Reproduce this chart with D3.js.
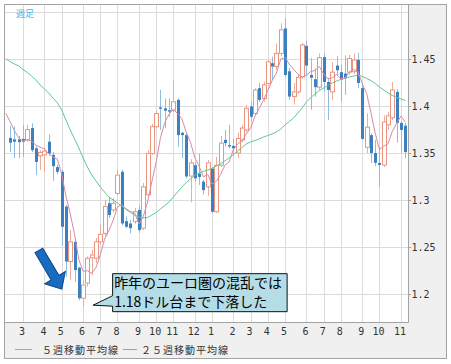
<!DOCTYPE html>
<html>
<head>
<meta charset="utf-8">
<script src="https://cdn.jsdelivr.net/npm/d3@7"></script>
<style>
body{margin:0;background:#fff;}
svg{display:block;}
</style>
</head>
<body>
<div id="main"></div>
<script>
// weekly EUR/USD, week 0 = 2010-02-08
var opens=[1.3660,1.3645,1.3645,1.3650,1.3640,1.3765,1.3550,1.3470,1.3480,1.3620,
1.3480,1.3350,1.3300,1.2930,1.2345,1.2555,1.2280,1.1955,1.2115,1.2385,
1.2380,1.2555,1.2645,1.2965,1.2895,1.3070,1.3300,1.2775,1.2750,1.2770,
1.2895,1.2700,1.3055,1.3495,1.3780,1.3985,1.3975,1.3955,1.3955,1.4065,
1.3715,1.3690,1.3255,1.3370,1.3280,1.3195,1.3140,1.3335,1.2875,1.3370,
1.3640,1.3585,1.3575,1.3500,1.3640,1.3745,1.3995,1.3920,1.4190,1.4080,
1.4240,1.4455,1.4420,1.4560,1.4825,1.4370,1.4100,1.4150,1.4310,1.4640,
1.4330,1.4285,1.4200,1.4520,1.4255,1.4150,1.4430,1.4360,1.4345,1.4360,
1.4365,1.4490,1.4190,1.3560,1.3690,1.3500,1.3394,1.3372,1.3800,1.3875,
1.4150,1.3820,1.3790];
var highs=[1.3790,1.3780,1.3680,1.3800,1.3800,1.3815,1.3570,1.3530,1.3555,1.3700,
1.3510,1.3375,1.3320,1.2950,1.2680,1.2575,1.2290,1.2150,1.2400,1.2470,
1.2595,1.2735,1.3000,1.3030,1.3020,1.3320,1.3320,1.2825,1.2790,1.2915,
1.2935,1.3180,1.3530,1.3810,1.3955,1.4170,1.4080,1.4080,1.4275,1.4080,
1.3725,1.3710,1.3435,1.3405,1.3495,1.3215,1.3425,1.3350,1.3460,1.3680,
1.3745,1.3800,1.3650,1.3715,1.3800,1.4010,1.4045,1.4190,1.4245,1.4255,
1.4490,1.4525,1.4665,1.4880,1.4935,1.4405,1.4245,1.4340,1.4670,1.4695,
1.4510,1.4400,1.4560,1.4560,1.4300,1.4465,1.4530,1.4440,1.4540,1.4545,
1.4560,1.4565,1.4250,1.3920,1.3710,1.3640,1.3560,1.3900,1.3935,1.4255,
1.4180,1.3840,1.3820];
var lows=[1.3510,1.3445,1.3445,1.3460,1.3620,1.3510,1.3265,1.3320,1.3300,1.3470,
1.3205,1.3275,1.2510,1.2185,1.2150,1.2130,1.1935,1.1865,1.2080,1.2200,
1.2330,1.2520,1.2615,1.2810,1.2870,1.3050,1.2730,1.2700,1.2645,1.2745,
1.2650,1.2680,1.3045,1.3480,1.3765,1.3745,1.3765,1.3885,1.3935,1.3565,
1.3445,1.3230,1.2975,1.3200,1.3160,1.3060,1.3045,1.2860,1.2860,1.3350,
1.3570,1.3550,1.3470,1.3445,1.3615,1.3725,1.3835,1.3895,1.4045,1.4045,
1.4215,1.4275,1.4385,1.4530,1.4310,1.4065,1.4015,1.4130,1.4290,1.4330,
1.3960,1.4100,1.4170,1.4150,1.3850,1.4060,1.4330,1.4045,1.4120,1.4330,
1.4340,1.4190,1.3640,1.3500,1.3395,1.3360,1.3140,1.3350,1.3745,1.3850,
1.3610,1.3500,1.3445];
var closes=[1.3610,1.3620,1.3615,1.3620,1.3750,1.3530,1.3405,1.3505,1.3520,1.3495,
1.3360,1.3300,1.2715,1.2345,1.2555,1.2255,1.1955,1.2095,1.2380,1.2415,
1.2555,1.2635,1.2930,1.2840,1.2965,1.3265,1.2750,1.2715,1.2700,1.2875,
1.2680,1.3140,1.3495,1.3780,1.3920,1.3970,1.3950,1.3940,1.4045,1.3690,
1.3690,1.3250,1.3395,1.3230,1.3245,1.3105,1.3395,1.2875,1.3370,1.3605,
1.3605,1.3570,1.3550,1.3655,1.3765,1.3975,1.3885,1.4170,1.4065,1.4225,
1.4470,1.4420,1.4560,1.4810,1.4330,1.4100,1.4150,1.4305,1.4650,1.4430,
1.4300,1.4200,1.4515,1.4255,1.4170,1.4360,1.4380,1.4280,1.4295,1.4505,
1.4490,1.4245,1.3650,1.3775,1.3500,1.3395,1.3372,1.3830,1.3895,1.4170,
1.3820,1.3745,1.3510];

// moving averages, first value is week -1
var maFirstWeek=-1;
var ma5=[1.3922,1.3833,1.3739,1.3660,1.3627,1.3643,1.3627,1.3584,1.3562,1.3542,1.3491,
1.3457,1.3436,1.3278,1.3043,1.2855,1.2634,1.2365,1.2241,1.2248,1.2220,
1.2280,1.2416,1.2583,1.2675,1.2785,1.2927,1.2950,1.2907,1.2879,1.2861,
1.2744,1.2822,1.2978,1.3194,1.3403,1.3661,1.3823,1.3912,1.3965,1.3919,
1.3863,1.3723,1.3614,1.3451,1.3362,1.3245,1.3274,1.3170,1.3198,1.3270,
1.3370,1.3405,1.3540,1.3597,1.3629,1.3703,1.3766,1.3890,1.3972,1.4064,
1.4163,1.4270,1.4348,1.4497,1.4518,1.4444,1.4390,1.4339,1.4307,1.4327,
1.4367,1.4377,1.4419,1.4340,1.4288,1.4300,1.4336,1.4289,1.4297,1.4364,
1.4390,1.4363,1.4237,1.4133,1.3932,1.3713,1.3538,1.3574,1.3598,1.3732,
1.3817,1.3892,1.3828];
var ma25=[1.4500,1.4473,1.4447,1.4426,1.4388,1.4356,1.4319,1.4277,1.4223,1.4181,1.4138,
1.4085,1.4032,1.3957,1.3851,1.3745,1.3649,1.3553,1.3447,1.3351,1.3266,
1.3202,1.3138,1.3085,1.3032,1.3000,1.2968,1.2936,1.2899,1.2867,1.2840,
1.2819,1.2809,1.2814,1.2840,1.2867,1.2904,1.2941,1.2979,1.3032,1.3085,
1.3138,1.3186,1.3223,1.3261,1.3287,1.3303,1.3319,1.3335,1.3362,1.3383,
1.3415,1.3447,1.3484,1.3521,1.3559,1.3596,1.3617,1.3633,1.3649,1.3670,
1.3686,1.3702,1.3723,1.3755,1.3798,1.3835,1.3872,1.3926,1.3979,1.4043,
1.4090,1.4128,1.4165,1.4191,1.4218,1.4245,1.4266,1.4282,1.4298,1.4309,
1.4319,1.4330,1.4314,1.4293,1.4271,1.4239,1.4202,1.4170,1.4138,1.4112,
1.4090,1.4074,1.4059];

// first week of each month
var tickWeeks=[3,8,12,17,21,25,30,34,38,43,47,52,56,60,64,69,73,77,82,86,91];
var tickLabels=['3','4','5','6','7','8','9','10','11','12','1','2','3','4','5','6','7','8','9','10','11'];
var gridPrices=[1.2,1.25,1.3,1.35,1.4,1.45,1.5];
var priceLabels=['1.2','1.25','1.3','1.35','1.4','1.45'];

var legendNames=['５週移動平均線','２５週移動平均線'];
var noteLines=['昨年のユーロ圏の混乱では','1.18ドル台まで下落した'];

var W=451,H=364;
var pLeft=5,pRight=408,pTop=5,pBottom=322;
var upColor='#e99580',upWick='#efab9b',downColor='#3d80c0',downWick='#8fbce2';
var ma5Color='#d98aa4',ma25Color='#5cc991';
var jp="'Noto Sans CJK JP','Noto Sans',sans-serif";
var num="'DejaVu Sans Mono',monospace";

var xs=d3.scaleLinear().domain([-1.19,92.64]).range([pLeft,pRight]);
var ys=d3.scaleLinear().domain([1.1702,1.5085]).range([pBottom,4]);

var svg=d3.select('#main')
  .append('svg')
    .attr('width',W)
    .attr('height',H);

// frame and plot background
svg.append('rect')
    .attr('x',4.5).attr('y',4.5)
    .attr('width',442).attr('height',354)
    .attr('fill','#f0f0f0')
    .attr('stroke','#a3a3a3');
svg.append('rect')
    .attr('x',pLeft).attr('y',pTop)
    .attr('width',pRight-pLeft).attr('height',pBottom-pTop)
    .attr('fill','#fff');

svg.append('clipPath').attr('id','clip')
  .append('rect')
    .attr('x',pLeft).attr('y',pTop)
    .attr('width',pRight-pLeft).attr('height',pBottom-pTop);

var grid=svg.append('g').attr('class','grid');
grid.selectAll('line.v')
    .data(tickWeeks)
  .enter().append('line')
    .attr('class','v')
    .attr('x1',function(d){return Math.round(xs(d))+0.5})
    .attr('x2',function(d){return Math.round(xs(d))+0.5})
    .attr('y1',pTop).attr('y2',pBottom)
    .attr('stroke','#dcdcdc');
grid.selectAll('line.h')
    .data(gridPrices)
  .enter().append('line')
    .attr('class','h')
    .attr('x1',pLeft).attr('x2',pRight)
    .attr('y1',function(d){return Math.round(ys(d))+0.5})
    .attr('y2',function(d){return Math.round(ys(d))+0.5})
    .attr('stroke','#dcdcdc');

// plot border right/bottom
svg.append('path')
    .attr('d','M'+(pRight+0.5)+','+pTop+'V'+(pBottom+0.5)+'H'+pLeft)
    .attr('fill','none')
    .attr('stroke','#a3a3a3');

var candles=opens.map(function(o,i){
  return {i:i,o:o,h:highs[i],l:lows[i],c:closes[i],up:closes[i]>o};
});

var plot=svg.append('g').attr('clip-path','url(#clip)');

plot.selectAll('line.wick')
    .data(candles)
  .enter().append('line')
    .attr('class','wick')
    .attr('x1',function(d){return Math.round(xs(d.i))+0.5})
    .attr('x2',function(d){return Math.round(xs(d.i))+0.5})
    .attr('y1',function(d){return ys(d.h)})
    .attr('y2',function(d){return ys(d.l)})
    .attr('stroke',function(d){return d.up?upWick:downWick});

plot.selectAll('rect.body')
    .data(candles)
  .enter().append('rect')
    .attr('class','body')
    .attr('x',function(d){return d.up?Math.round(xs(d.i))-1.5:Math.round(xs(d.i))-1})
    .attr('y',function(d){return ys(Math.max(d.o,d.c))})
    .attr('width',function(d){return d.up?4:3})
    .attr('height',function(d){return Math.max(1,ys(Math.min(d.o,d.c))-ys(Math.max(d.o,d.c)))})
    .attr('fill',function(d){return d.up?'#fff':downColor})
    .attr('stroke',function(d){return d.up?upColor:'none'});

var maLine=d3.line()
    .x(function(d,k){return xs(k+maFirstWeek)})
    .y(function(d){return ys(d)});

plot.append('path')
    .attr('d',maLine(ma25))
    .attr('fill','none')
    .attr('stroke',ma25Color);
plot.append('path')
    .attr('d',maLine(ma5))
    .attr('fill','none')
    .attr('stroke',ma5Color);

// axes
svg.selectAll('text.ylab')
    .data(priceLabels)
  .enter().append('text')
    .attr('class','ylab')
    .attr('x',pRight+3.5)
    .attr('y',function(d){return ys(+d)+3.8})
    .style('font-family',num)
    .style('font-size','10px')
    .attr('fill','#333')
    .text(function(d){return d});
svg.selectAll('line.ytick')
    .data(priceLabels)
  .enter().append('line')
    .attr('class','ytick')
    .attr('x1',pRight).attr('x2',pRight+3)
    .attr('y1',function(d){return Math.round(ys(+d))+0.5})
    .attr('y2',function(d){return Math.round(ys(+d))+0.5})
    .attr('stroke','#a3a3a3');

svg.selectAll('text.xlab')
    .data(tickWeeks)
  .enter().append('text')
    .attr('class','xlab')
    .attr('x',function(d){return xs(d)-1})
    .attr('y',335)
    .attr('text-anchor','middle')
    .style('font-family',num)
    .style('font-size','10px')
    .attr('fill','#333')
    .text(function(d,k){return tickLabels[k]});

// legend
var legendX=[15,123];
var legendColors=[ma5Color,ma25Color];
legendNames.forEach(function(name,k){
  svg.append('line')
      .attr('x1',legendX[k]).attr('x2',legendX[k]+(k?14:17))
      .attr('y1',349.5).attr('y2',349.5)
      .attr('stroke',legendColors[k]);
  svg.append('text')
      .attr('x',legendX[k]+(k?18:27))
      .attr('y',353.5)
      .style('font-family',jp)
      .style('font-size','10px')
      .style('letter-spacing','1px')
      .attr('fill','#333')
      .text(name);
});

svg.append('text')
    .attr('x',16).attr('y',16.5)
    .style('font-family',jp)
    .style('font-size','9px')
    .attr('fill','#45b4ec')
    .text('週足');

// annotation: arrow and callout anchored to the lowest week
var lowWeek=d3.minIndex(lows);
var lowX=xs(lowWeek),lowY=ys(lows[lowWeek]);

var tipX=lowX-21.3,tipY=lowY-17.5;
var ang=59.3;
svg.append('path')
    .attr('d','M0,0L-13.4,-12L-13.4,-4.5L-45,-4.5L-45,4.5L-13.4,4.5L-13.4,12Z')
    .attr('transform','translate('+tipX+','+tipY+') rotate('+ang+')')
    .attr('fill','#1a6cc0')
    .attr('stroke','#0d4785')
    .attr('stroke-width',1);

var px=lowX+10,py=lowY-1.5;
var bx=px+19.5,by=py-31.5,bw=174.5,bh=38;
svg.append('path')
    .attr('d','M'+bx+','+by+'H'+(bx+bw)+'V'+(by+bh)+'H'+bx+'V'+(py+1)+'L'+px+','+py+'L'+bx+','+(py-9.5)+'Z')
    .attr('fill','#b5dde7')
    .attr('stroke','#111');

svg.selectAll('text.note')
    .data(noteLines)
  .enter().append('text')
    .attr('class','note')
    .attr('x',bx+1.5)
    .attr('y',function(d,k){return by+14.5+k*19})
    .style('font-family',jp)
    .style('font-size','14px')
    .attr('fill','#000')
    .text(function(d){return d});
</script>
</body>
</html>
